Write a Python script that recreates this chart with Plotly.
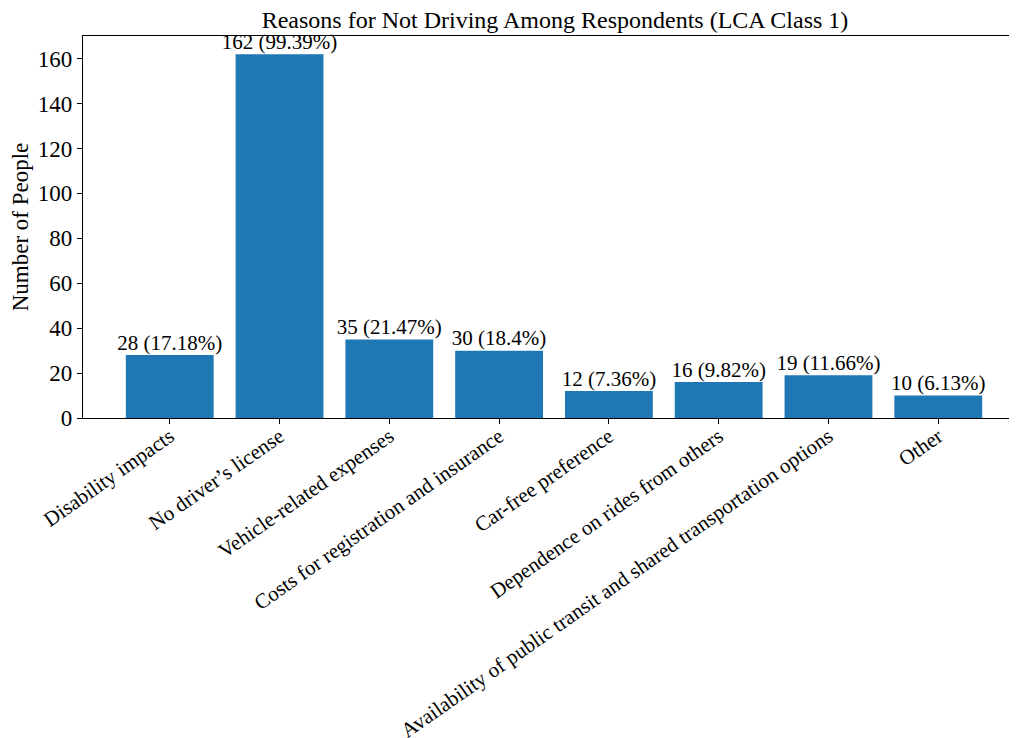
import plotly.graph_objects as go

categories = ['Disability impacts', 'No driver\u2019s license', 'Vehicle-related expenses',
              'Costs for registration and insurance', 'Car-free preference',
              'Dependence on rides from others',
              'Availability of public transit and shared transportation options', 'Other']
counts = [28, 162, 35, 30, 12, 16, 19, 10]
percents = ['17.18', '99.39', '21.47', '18.4', '7.36', '9.82', '11.66', '6.13']
y_ticks = [0, 20, 40, 60, 80, 100, 120, 140, 160]

FONT = 'Liberation Serif, Times New Roman, serif'
BLUE = '#1f77b4'

labels = ['{} ({}%)'.format(c, p) for c, p in zip(counts, percents)]
xpos = list(range(len(categories)))

fig = go.Figure()
fig.add_trace(go.Bar(x=xpos, y=counts, width=0.8, marker_color=BLUE,
                     marker_line_width=0, showlegend=False))
fig.add_trace(go.Scatter(x=xpos, y=counts, mode='text', text=labels,
                         textposition='top center', cliponaxis=False,
                         textfont=dict(family=FONT, size=21, color='black'),
                         showlegend=False))

# the page adds an 8px body margin, so margins are shifted by 8px
fig.update_layout(
    width=1017, height=738,
    margin=dict(l=75, r=0, t=28, b=328),
    plot_bgcolor='white', paper_bgcolor='white',
    font=dict(family=FONT, color='black'),
    title=dict(text='Reasons for Not Driving Among Respondents (LCA Class 1)',
               x=547 / 1017, xanchor='center', y=1 - 12 / 738, yanchor='middle',
               font=dict(size=24, family=FONT)),
    bargap=0.2,
)
fig.update_xaxes(range=[-0.79, 7.79], tickmode='array', tickvals=xpos, ticktext=categories,
                 tickangle=-35, tickfont=dict(size=21, family=FONT), automargin=False,
                 ticklabelstandoff=-8,
                 showline=True, linecolor='black', linewidth=1.2, mirror=True,
                 ticks='outside', ticklen=5, tickcolor='black', showgrid=False, zeroline=False)
fig.update_yaxes(range=[0, 170.1], tickmode='array', tickvals=y_ticks,
                 tickfont=dict(size=23, family=FONT), automargin=False,
                 title=dict(text='Number of People', font=dict(size=23, family=FONT), standoff=8),
                 showline=True, linecolor='black', linewidth=1.2, mirror=True,
                 ticks='outside', ticklen=5, tickcolor='black', showgrid=False, zeroline=False)

fig.write_html('out.html')
